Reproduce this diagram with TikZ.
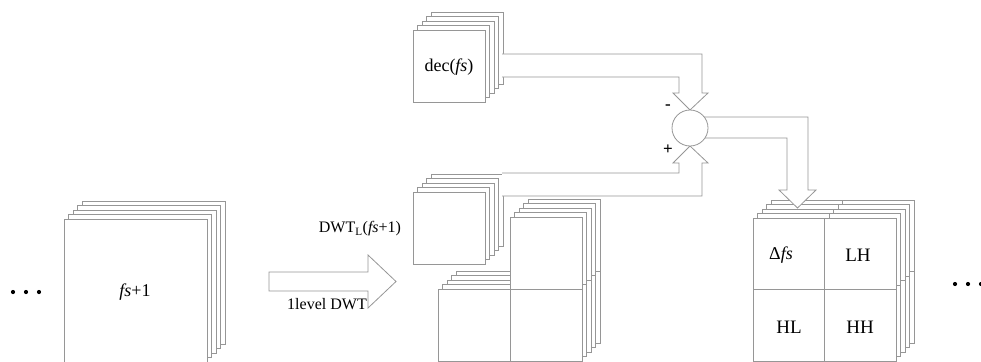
\documentclass[tikz,border=0pt]{standalone}
\usepackage{fontspec}
\setmainfont{Liberation Serif}
\definecolor{lg}{RGB}{150,150,150}
\tikzset{
  sheet/.style={draw=lg, fill=white, line width=0.8pt},
  divline/.style={draw=lg, line width=0.8pt},
  hollowarrow/.style={draw=lg, fill=white, line width=0.8pt, line join=miter},
  lbl/.style={inner sep=0pt, font=\fontsize{18}{21}\selectfont},
  lblsmall/.style={inner sep=0pt, font=\fontsize{16}{19}\selectfont},
  lblbig/.style={inner sep=0pt, font=\fontsize{19}{22}\selectfont},
  sign/.style={inner sep=0pt, font=\fontsize{17}{20}\selectfont\bfseries},
  dotmark/.style={circle, fill=black, inner sep=0pt, minimum size=4.2pt},
  sumnode/.style={circle, draw=lg, fill=white, line width=0.8pt, inner sep=0pt, minimum size=36pt}
}
\begin{document}
\begin{tikzpicture}[x=1pt,y=-1pt]
\useasboundingbox (0,0) rectangle (981,361);
\clip (0,0) rectangle (981,361);

% dots
\node[dotmark] (l1) at (13,292) {};
\node[dotmark] (l2) at (26,292) {};
\node[dotmark] (l3) at (39,292) {};
\node[dotmark] (r1) at (955,284) {};
\node[dotmark] (r2) at (968,284) {};
\node[dotmark] (r3) at (981,284) {};

% fs+1 stack
\foreach \k in {4,3,2,1,0}{
  \draw[sheet] ({64+4.5*\k},{219-4.5*\k}) rectangle ++(143,143);
}
\node[lbl] (fsone) at (135,292) {\textit{fs}+1};

% 1 level DWT arrow
\draw[hollowarrow] (269,272) -- (368,272) -- (368,255) -- (396,281.5) -- (368,308) -- (368,291) -- (269,291) -- cycle;
\node[lblsmall] (lvl) at (327,304) {1level DWT};
\node[lblsmall] (dwtl) at (360,229) {DWT\textsubscript{L}(\textit{fs}+1)};

% dec stack
\foreach \k in {4,3,2,1,0}{
  \draw[sheet] ({413+4.5*\k},{30-4.5*\k}) rectangle ++(72,72);
}
\node[lbl] (dec) at (449,67) {dec(\textit{fs})};

% DWT group (LH, HL, HH)
\foreach \k in {4,3,2,1,0}{
  \begin{scope}[shift={({4.5*\k},{-4.5*\k})}]
    \draw[sheet] (438,289) -- (510,289) -- (510,217) -- (582,217) -- (582,361) -- (438,361) -- cycle;
    \draw[divline] (510,289) -- (582,289) (510,289) -- (510,361);
  \end{scope}
}

% LL stack
\foreach \k in {4,3,2,1,0}{
  \draw[sheet] ({413+4.5*\k},{192-4.5*\k}) rectangle ++(72,72);
}

% arrows to the sum
\fill[white] (502,54) -- (702,54) -- (702,93) -- (708,93) -- (690,110) -- (673,93) -- (679,93) -- (679,77) -- (502,77) -- cycle;
\draw[divline, line join=miter] (502,54) -- (702,54) -- (702,93) -- (708,93) -- (690,110) -- (673,93) -- (679,93) -- (679,77) -- (502,77);

\fill[white] (502,173) -- (679,173) -- (679,163) -- (673,163) -- (690,146) -- (708,163) -- (702,163) -- (702,196) -- (502,196) -- cycle;
\draw[divline, line join=miter] (502,173) -- (679,173) -- (679,163) -- (673,163) -- (690,146) -- (708,163) -- (702,163) -- (702,196) -- (502,196);

% Delta fs stack
\foreach \k in {4,3,2,1,0}{
  \begin{scope}[shift={({4.5*\k},{-4.5*\k})}]
    \draw[sheet] (753,218) rectangle (896,361);
    \draw[divline] (824.5,218) -- (824.5,361) (753,289.5) -- (896,289.5);
  \end{scope}
}
\node[lbl] (dfs) at (781,255) {Δ\textit{fs}};
\node[lblbig] (lh) at (858,255) {LH};
\node[lblbig] (hl) at (789,327) {HL};
\node[lblbig] (hh) at (860,327) {HH};

% arrow from sum to Delta fs
\fill[white] (700,117) -- (808,117) -- (808,190) -- (816,190) -- (797.5,208) -- (779,190) -- (787,190) -- (787,138) -- (700,138) -- cycle;
\draw[divline, line join=miter] (700,117) -- (808,117) -- (808,190) -- (816,190) -- (797.5,208) -- (779,190) -- (787,190) -- (787,138) -- (700,138);

% sum circle
\node[sumnode] (sum) at (690,128) {};
\node[sign] (minus) at (668,107) {-};
\node[sign] (plus) at (668,150) {+};
\end{tikzpicture}
\end{document}
